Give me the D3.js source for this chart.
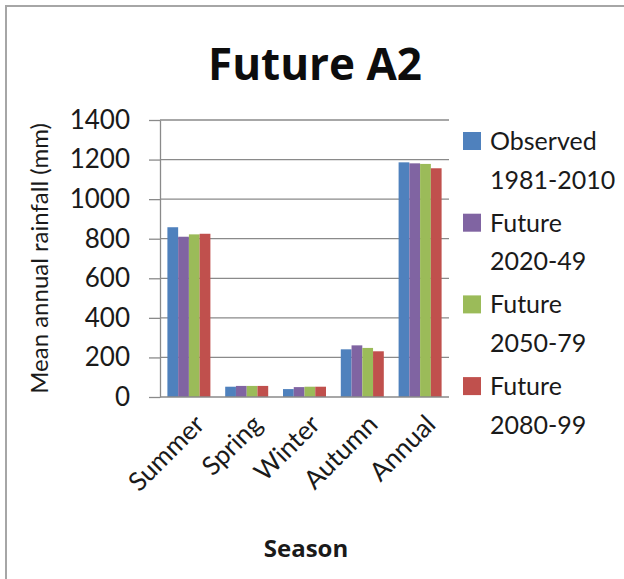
<!DOCTYPE html>
<html>
<head>
<meta charset="utf-8">
<script src="https://cdn.jsdelivr.net/npm/d3@7"></script>
<style>
  html, body { margin: 0; padding: 0; background: #fff; }
  svg { display: block; }
</style>
</head>
<body>
<svg id="chart" width="624" height="579"></svg>
<script>
// ---- data ----
const categories = ["Summer", "Spring", "Winter", "Autumn", "Annual"];
const seriesNames = ["Observed 1981-2010", "Future 2020-49", "Future 2050-79", "Future 2080-99"];
const legendLine1 = ["Observed", "Future", "Future", "Future"];
const legendLine2 = ["1981-2010", "2020-49", "2050-79", "2080-99"];
const observed = [858, 52, 40, 241, 1186];
const future2020 = [810, 56, 50, 261, 1181];
const future2050 = [822, 56, 52, 248, 1178];
const future2080 = [825, 56, 52, 231, 1156];
const yTicks = [0, 200, 400, 600, 800, 1000, 1200, 1400];
const colors = ["#4F81BD", "#8064A2", "#9BBB59", "#C0504D"];
const titleText = "Future A2";
const yLabel = "Mean annual rainfall (mm)";
const xLabel = "Season";

const seriesValues = [observed, future2020, future2050, future2080];

const svg = d3.select("#chart");
const FONT = "Lato, 'Open Sans', sans-serif";
const BOLD = "'Open Sans', Lato, sans-serif";

// border
svg.append("path")
  .attr("d", "M6,579 V6 H624")
  .attr("fill", "none").attr("stroke", "#a6a6a6").attr("stroke-width", 2);

const plot = { left: 160, right: 449, top: 120, bottom: 397 };

const x0 = d3.scaleBand().domain(categories)
  .range([plot.left, plot.right]).paddingInner(0.256).paddingOuter(0.128);
const x1 = d3.scaleBand().domain(d3.range(seriesNames.length))
  .range([0, x0.bandwidth()]).padding(0);
const y = d3.scaleLinear().domain([0, 1400]).range([plot.bottom, plot.top]);

// gridlines
svg.append("g").selectAll("line").data(yTicks.filter(d => d > 0)).join("line")
  .attr("x1", plot.left).attr("x2", plot.right)
  .attr("y1", d => y(d)).attr("y2", d => y(d))
  .attr("stroke", "#8a8a8a").attr("stroke-width", 1.3);

// bars
const groups = svg.append("g").selectAll("g").data(categories).join("g")
  .attr("transform", d => `translate(${x0(d)},0)`);
groups.selectAll("rect")
  .data((c, ci) => seriesValues.map((vals, si) => ({ si, v: vals[ci] })))
  .join("rect")
  .attr("x", d => x1(d.si))
  .attr("width", x1.bandwidth())
  .attr("y", d => y(d.v))
  .attr("height", d => y(0) - y(d.v))
  .attr("fill", d => colors[d.si]);

// y axis
const yAxis = svg.append("g")
  .attr("transform", `translate(${plot.left},0)`)
  .call(d3.axisLeft(y).tickValues(yTicks).tickFormat(d3.format("d"))
    .tickSize(11).tickSizeOuter(0).tickPadding(19));
yAxis.select(".domain").attr("stroke", "#8a8a8a").attr("stroke-width", 1.3);
yAxis.selectAll(".tick line").attr("stroke", "#8a8a8a").attr("stroke-width", 1.3);
yAxis.selectAll(".tick text")
  .attr("font-family", FONT).attr("font-size", 26).attr("fill", "#1a1a1a");

// x axis
const xAxis = svg.append("g")
  .attr("transform", `translate(0,${plot.bottom})`)
  .call(d3.axisBottom(x0).tickSize(0).tickSizeOuter(0).tickFormat(() => ""));
xAxis.select(".domain").attr("stroke", "#8a8a8a").attr("stroke-width", 1.3)
  .attr("d", `M${plot.left},0H${plot.right}`);

// x labels rotated
svg.append("g").selectAll("text").data(categories).join("text")
  .attr("transform", d => `translate(${x0(d) + x0.bandwidth() / 2 + 4},${plot.bottom + 16}) rotate(-45)`)
  .attr("text-anchor", "end")
  .attr("dy", "0.71em")
  .attr("font-family", FONT).attr("font-size", 26).attr("fill", "#1a1a1a")
  .text(d => d);

// title
svg.append("text")
  .attr("x", 315).attr("y", 80)
  .attr("text-anchor", "middle")
  .attr("font-family", BOLD).attr("font-weight", "bold").attr("font-size", 44)
  .attr("fill", "#0d0d0d")
  .text(titleText);

// y label
svg.append("text")
  .attr("transform", `translate(48,${(plot.top + plot.bottom) / 2}) rotate(-90)`)
  .attr("text-anchor", "middle")
  .attr("font-family", FONT).attr("font-size", 24).attr("fill", "#1a1a1a")
  .text(yLabel);

// x label
svg.append("text")
  .attr("x", 306).attr("y", 557)
  .attr("text-anchor", "middle")
  .attr("font-family", BOLD).attr("font-weight", "bold").attr("font-size", 24)
  .attr("fill", "#1a1a1a")
  .text(xLabel);

// legend
const legend = svg.append("g").selectAll("g").data(seriesNames).join("g")
  .attr("transform", (d, i) => `translate(463,${132 + i * 81.7})`);
legend.append("rect")
  .attr("width", 18).attr("height", 18)
  .attr("fill", (d, i) => colors[i]);
legend.append("text")
  .attr("x", 27).attr("y", 18)
  .attr("font-family", FONT).attr("font-size", 25).attr("fill", "#1a1a1a")
  .text((d, i) => legendLine1[i]);
legend.append("text")
  .attr("x", 27).attr("y", 56.5)
  .attr("font-family", FONT).attr("font-size", 25).attr("fill", "#1a1a1a")
  .text((d, i) => legendLine2[i]);
</script>
</body>
</html>
